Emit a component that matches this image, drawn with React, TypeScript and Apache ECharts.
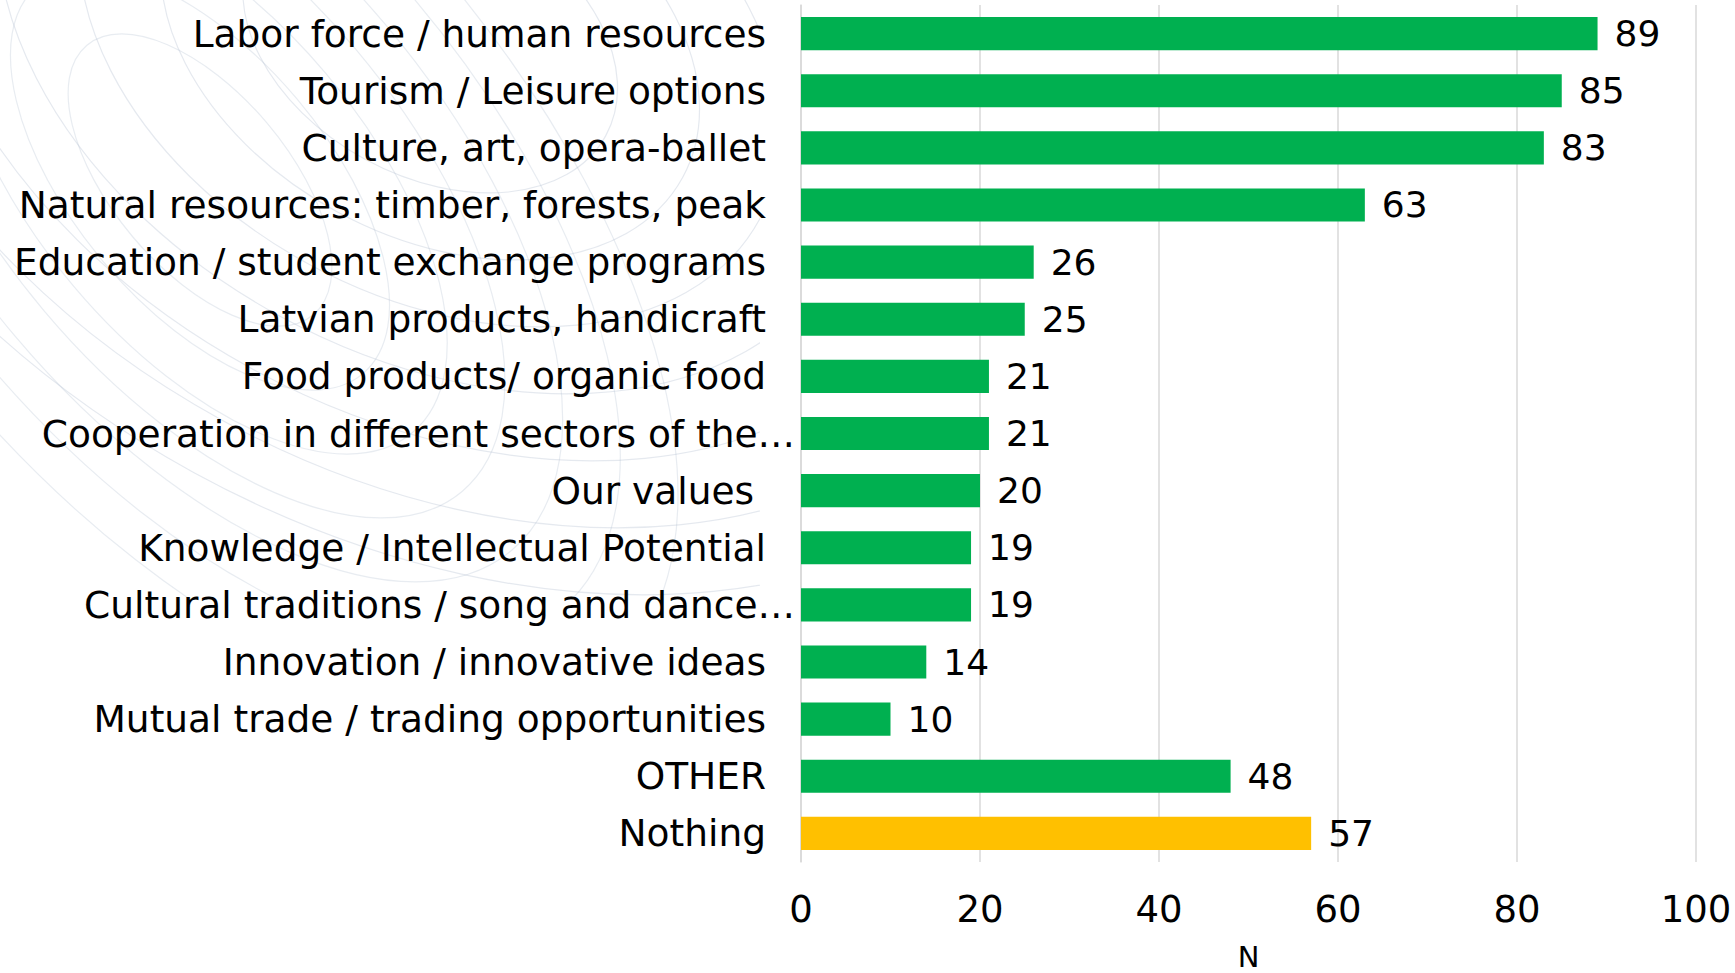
import React, { useEffect, useRef } from "react";
import * as echarts from "echarts";

const categories: string[] = [
  "Labor force / human resources",
  "Tourism / Leisure options",
  "Culture, art, opera-ballet",
  "Natural resources: timber, forests, peak",
  "Education / student exchange programs",
  "Latvian products, handicraft",
  "Food products/ organic food",
  "Cooperation in different sectors of the…",
  "Our values ",
  "Knowledge / Intellectual Potential",
  "Cultural traditions / song and dance…",
  "Innovation / innovative ideas",
  "Mutual trade / trading opportunities",
  "OTHER",
  "Nothing",
];
const values: number[] = [89, 85, 83, 63, 26, 25, 21, 21, 20, 19, 19, 14, 10, 48, 57];
const highlightCategory = "Nothing";
const xTicks = { min: 0, max: 100, interval: 20 };
const axisName = "N";

const GREEN = "#00B050";
const YELLOW = "#FFC000";
const FONT = "DejaVu Sans, Verdana, sans-serif";
const FS = 37;
const FS_Y = 37.5;

export default function App() {
  const ref = useRef<HTMLDivElement>(null);
  useEffect(() => {
    if (!ref.current) return;
    const chart = echarts.init(ref.current, undefined, { renderer: "svg" });
    const rings: any[] = [];
    const radii = [160, 230, 300, 370, 440, 510, 580];
    radii.forEach((r) => {
      rings.push({
        type: "ellipse",
        shape: { cx: 430, cy: 40, rx: r * 1.25, ry: r * 0.85 },
        rotation: -0.5,
        originX: 430,
        originY: 40,
        silent: true,
        z: -10,
        style: { fill: "none", stroke: "rgba(180,192,208,0.35)", lineWidth: 1.2 },
      });
      rings.push({
        type: "ellipse",
        shape: { cx: 200, cy: 180, rx: r * 0.55, ry: r * 1.1 },
        rotation: 0.7,
        originX: 200,
        originY: 180,
        silent: true,
        z: -10,
        style: { fill: "none", stroke: "rgba(180,192,208,0.3)", lineWidth: 1.2 },
      });
    });
    chart.setOption({
      animation: false,
      backgroundColor: "#ffffff",
      graphic: [
        {
          type: "group",
          silent: true,
          clipPath: { type: "rect", shape: { x: 0, y: 0, width: 760, height: 600 } },
          children: rings,
        },
      ],
      grid: {
        left: 801,
        right: 39,
        top: 5,
        bottom: 111,
        containLabel: false,
        outerBoundsMode: "none",
      },
      xAxis: {
        type: "value",
        min: xTicks.min,
        max: xTicks.max,
        interval: xTicks.interval,
        name: axisName,
        nameLocation: "middle",
        nameGap: 80,
        nameTextStyle: { fontFamily: FONT, fontSize: 29, color: "#000" },
        axisLine: { show: false },
        axisTick: { show: false },
        axisLabel: { fontFamily: FONT, fontSize: FS, color: "#000", margin: 29 },
        splitLine: { show: true, lineStyle: { color: "#D9D9D9", width: 1.5 } },
      },
      yAxis: {
        type: "category",
        inverse: true,
        data: categories,
        axisLine: { show: true, lineStyle: { color: "#D9D9D9", width: 1.5 } },
        axisTick: { show: false },
        axisLabel: {
          margin: 6,
          formatter: (v: string) => (v.endsWith("…") ? `{b|${v}}` : `{a|${v}}`),
          rich: {
            a: { fontFamily: FONT, fontSize: FS_Y, color: "#000", padding: [0, 29, 0, 0] },
            b: { fontFamily: FONT, fontSize: FS_Y, color: "#000" },
          },
        },
      },
      series: [
        {
          type: "bar",
          data: values.map((v, i) => ({
            value: v,
            itemStyle: { color: categories[i] === highlightCategory ? YELLOW : GREEN },
          })),
          barCategoryGap: "42%",
          label: {
            show: true,
            position: "right",
            distance: 17,
            fontFamily: FONT,
            fontSize: 36,
            color: "#000",
          },
        },
      ],
    });
    return () => chart.dispose();
  }, []);
  return (
    <div
      ref={ref}
      style={{ position: "fixed", left: 0, top: 0, width: 1735, height: 973 }}
    />
  );
}
